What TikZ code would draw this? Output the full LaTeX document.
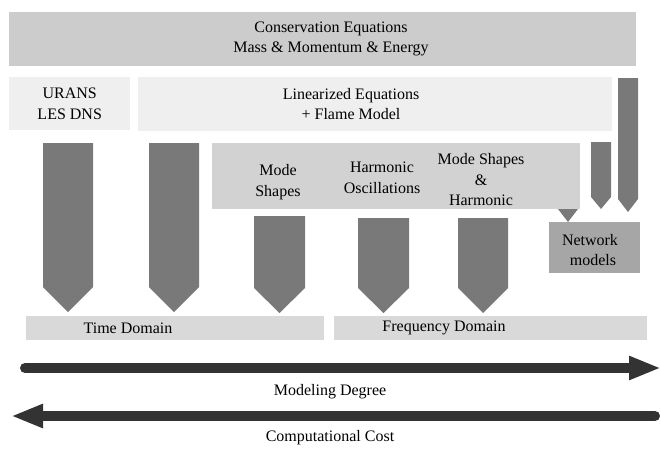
\documentclass[tikz,border=0pt]{standalone}
\usepackage{fontspec}
\setmainfont{Liberation Serif}
\usetikzlibrary{arrows.meta,positioning}

\definecolor{topgray}{HTML}{CCCCCC}
\definecolor{lightgray}{HTML}{EFEFEF}
\definecolor{midgray}{HTML}{D2D2D2}
\definecolor{bargray}{HTML}{D9D9D9}
\definecolor{netgray}{HTML}{A6A6A6}
\definecolor{arrowgray}{HTML}{797979}
\definecolor{darkline}{HTML}{333333}

% block arrow pointing down: left x, right x, top y, shoulder y, tip y
\newcommand{\blockdown}[5]{%
  \fill[arrowgray] (#1,#3) -- (#2,#3) -- (#2,#4) -- ({(#1+#2)/2},#5) -- (#1,#4) -- cycle;}

\begin{document}
\begin{tikzpicture}[x=1pt, y=-1pt,
    txt/.style={font=\fontsize{16}{20.5}\selectfont, align=center, inner sep=0pt},
    box/.style={anchor=north west, inner sep=0pt, draw=none},
    bigarrow/.style={darkline, line width=10pt, line cap=round}]
    \useasboundingbox (0,0) rectangle (661,450);

    % Top level: conservation equations
    \node[box, fill=topgray, minimum width=627pt, minimum height=54pt] (cons) at (9,12) {};
    \node[txt] (conslabel) at (331,39) {Conservation Equations\\Mass \& Momentum \& Energy};

    % Second level
    \node[box, fill=lightgray, minimum width=121pt, minimum height=53pt] (urans) at (9,77) {};
    \node[txt] (uranslabel) at (urans.center) {URANS\\LES DNS};
    \node[box, fill=lightgray, minimum width=474pt, minimum height=54pt] (lin) at (138,77) {};
    \node[txt] (linlabel) at (351,104) {Linearized Equations\\+ Flame Model};

    % Frequency domain methods
    \node[box, fill=midgray, minimum width=368pt, minimum height=66pt] (modes) at (212,143) {};
    \node[txt] (modeshapes) at (278,182) {Mode\\Shapes};
    \node[txt] (harmonic) at (382,178) {Harmonic\\Oscillations};
    \node[txt] (modeharm) at (481,180) {Mode Shapes\\\&\\Harmonic};

    \node[box, fill=netgray, minimum width=91pt, minimum height=51pt] (net) at (549,222) {};
    \node[txt] (netlabel) at (590,250) {Network\\\hspace*{6pt}models};

    % Down arrows
    \blockdown{43}{93}{143}{287}{312}
    \blockdown{149}{199}{143}{287}{312}
    \blockdown{254}{305}{216}{288}{313}
    \blockdown{358}{409}{218}{288}{313}
    \blockdown{458}{508}{218}{288}{313}
    \blockdown{591}{611}{142}{197}{209}
    \blockdown{618}{638}{78}{199}{212}
    \fill[arrowgray] (558,209) -- (578,209) -- (568,222) -- cycle;

    % Domains
    \node[box, fill=bargray, minimum width=298pt, minimum height=24pt] (time) at (26,316) {};
    \node[txt] (timelabel) at (128,328) {Time Domain};
    \node[box, fill=bargray, minimum width=313pt, minimum height=24pt] (freq) at (334,316) {};
    \node[txt] (freqlabel) at (444,328) {Frequency Domain};

    % Trend arrows
    \coordinate (md-start) at (25,368);
    \coordinate (md-end) at (661,368);
    \draw[bigarrow, -{Triangle[length=32pt, width=22pt]}] (md-start) -- (md-end);
    \node[txt] (mdlabel) at (330,392) {Modeling Degree};

    \coordinate (cc-start) at (655,416);
    \coordinate (cc-end) at (11,416);
    \draw[bigarrow, -{Triangle[length=32pt, width=22pt]}] (cc-start) -- (cc-end);
    \node[txt] (cclabel) at (330,438) {Computational Cost};
\end{tikzpicture}
\end{document}
